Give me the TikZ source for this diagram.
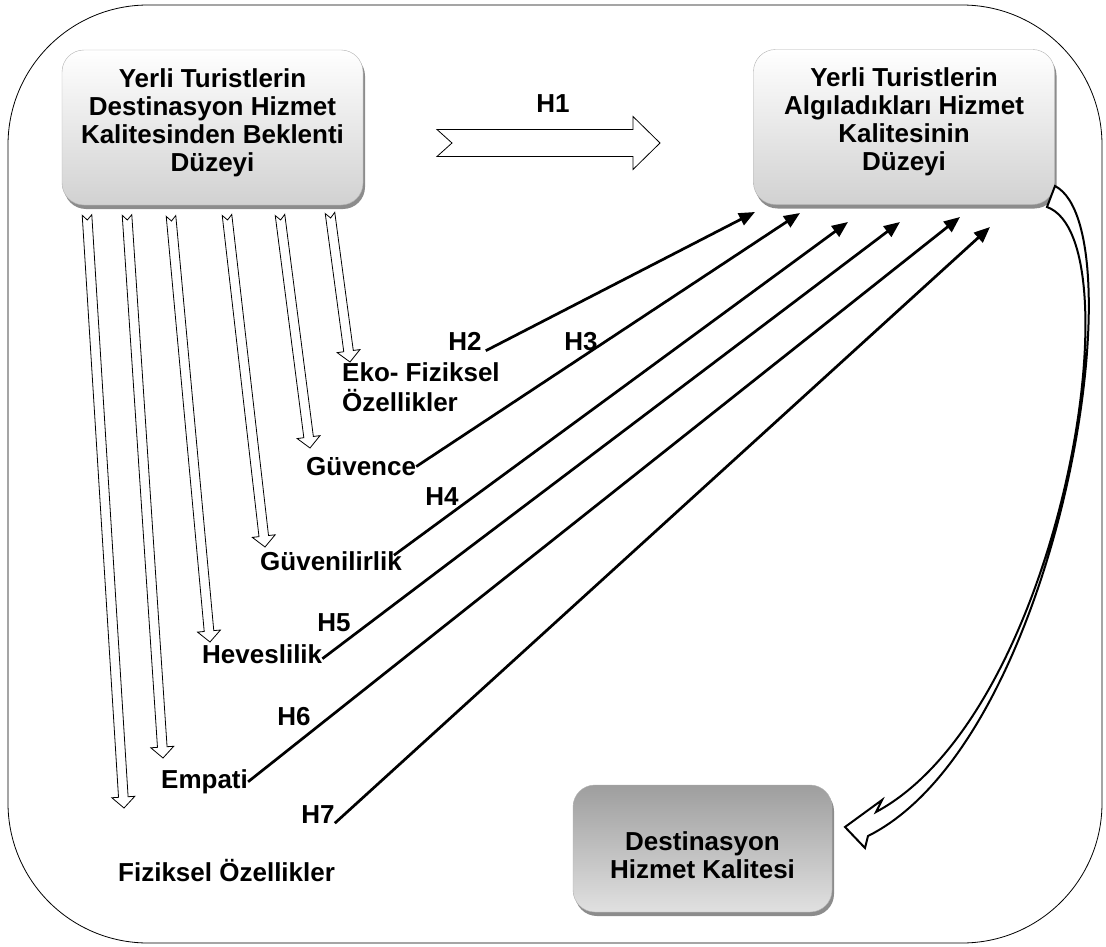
\documentclass[tikz,border=0pt]{standalone}
\usepackage{fontspec}
\setmainfont{Liberation Sans}
\usetikzlibrary{arrows.meta,calc,shadows}
\tikzset{
  box/.style={draw=black!30,rounded corners=22pt,minimum width=301pt,minimum height=155pt,
    top color=white,bottom color=black!18,align=center,
    drop shadow={shadow xshift=2pt,shadow yshift=-4pt,fill=black!45,opacity=1},
    font=\fontsize{26}{28}\selectfont\bfseries},
  lbl/.style={inner sep=0pt,font=\fontsize{26}{30}\selectfont\bfseries},
  hyp/.style={line width=2.7pt,-{Triangle[length=16pt,width=13pt]}},
  blockarr/.style={draw,line width=0.8pt,fill=white,line join=miter},
  curvearr/.style={draw,line width=2pt,fill=white,line join=miter},
}
\newcommand{\notcharrow}[6]{%
  \coordinate (hb) at ($(#2)!#5!(#1)$);
  \draw[blockarr] ($(#1)!#3!90:(#2)$) -- ($(hb)!#3!-90:(#1)$) -- ($(hb)!#4!-90:(#1)$)
    -- (#2) -- ($(hb)!#4!90:(#1)$) -- ($(hb)!#3!90:(#1)$) -- ($(#1)!#3!-90:(#2)$)
    -- ($(#1)!#6!(#2)$) -- cycle;
}

\begin{document}
\begin{tikzpicture}[x=1pt,y=-1pt]
      \useasboundingbox (0,0) rectangle (1106,947);
      \draw[line width=0.8pt,rounded corners=140pt] (8,5) rectangle (1102,943);

      \node[box] (expect) at (212.5,127.5) {Yerli Turistlerin\\Destinasyon Hizmet\\Kalitesinden Beklenti\\Düzeyi\rule[-15pt]{0pt}{0pt}};
      \node[box] (perceived) at (904,127) {Yerli Turistlerin\\Algıladıkları Hizmet\\Kalitesinin\\Düzeyi\rule[-15pt]{0pt}{0pt}};
      \node[box,minimum width=259pt,minimum height=127pt,top color=black!38,bottom color=black!12] (quality) at (702.5,848.5) {\rule{0pt}{33pt}Destinasyon\\Hizmet Kalitesi};

      \node[lbl,anchor=north west,align=left] (eko) at (342,362) {Eko- Fiziksel\\Özellikler};
      \node[lbl,anchor=base west] (guvence) at (306,475.5) {Güvence};
      \node[lbl,anchor=base west] (guvenilir) at (260,570.5) {Güvenilirlik};
      \node[lbl,anchor=base west] (heves) at (202,663) {Heveslilik};
      \node[lbl,anchor=base west] (empati) at (161,788.5) {Empati};
      \node[lbl,anchor=base west] (fiziksel) at (118,881) {Fiziksel Özellikler};

      \node[lbl,anchor=base] (h1) at (553,112.5) {H1};
      \node[lbl,anchor=base] (h2) at (465,350.5) {H2};
      \node[lbl,anchor=base] (h3) at (581,350.5) {H3};
      \node[lbl,anchor=base] (h4) at (442,505) {H4};
      \node[lbl,anchor=base] (h5) at (334,631.5) {H5};
      \node[lbl,anchor=base] (h6) at (294,725.5) {H6};
      \node[lbl,anchor=base] (h7) at (318,823) {H7};

      \coordinate (h1s) at (437,143);
      \coordinate (h1t) at (660,143);
      \notcharrow{h1s}{h1t}{13.5pt}{26.5pt}{27pt}{15pt}

      \coordinate (a1) at (87,215);
      \coordinate (a2) at (127,215);
      \coordinate (a3) at (171,216);
      \coordinate (a4) at (227,215);
      \coordinate (a5) at (280,215);
      \coordinate (a6) at (330,213);
      \coordinate (b1) at (124,808);
      \coordinate (b2) at (163,758);
      \coordinate (b3) at (210,642);
      \coordinate (b4) at (265,547);
      \coordinate (b5) at (310,448);
      \coordinate (b6) at (350,362);
      \notcharrow{a1}{b1}{4.8pt}{11.5pt}{11pt}{5pt}
      \notcharrow{a2}{b2}{4.8pt}{11.5pt}{11pt}{5pt}
      \notcharrow{a3}{b3}{4.8pt}{11.5pt}{11pt}{5pt}
      \notcharrow{a4}{b4}{4.8pt}{11.5pt}{11pt}{5pt}
      \notcharrow{a5}{b5}{4.8pt}{11.5pt}{11pt}{5pt}
      \notcharrow{a6}{b6}{4.8pt}{11.5pt}{11pt}{5pt}

      \coordinate (p2) at (755,212);
      \coordinate (p3) at (800,213);
      \coordinate (p4) at (848,222);
      \coordinate (p5) at (900,222);
      \coordinate (p6) at (960,217);
      \coordinate (p7) at (990,227);
      \draw[hyp] ([xshift=4pt]h2.south east) -- (p2);
      \draw[hyp] (guvence.east) -- (p3);
      \draw[hyp] ([xshift=-8pt,yshift=6pt]guvenilir.east) -- (p4);
      \draw[hyp] ([yshift=-5pt]heves.east) -- (p5);
      \draw[hyp] (empati.east) -- (p6);
      \draw[hyp] (h7.south east) -- (p7);

      \draw[curvearr] (1055,186) .. controls (1140,230) and (1060,740) .. (868,836)
        -- (865,848) -- (845,827) -- (882,800) -- (876,812)
        .. controls (1062,712) and (1138,240) .. (1047,207) -- cycle;
    \end{tikzpicture}
\end{document}
